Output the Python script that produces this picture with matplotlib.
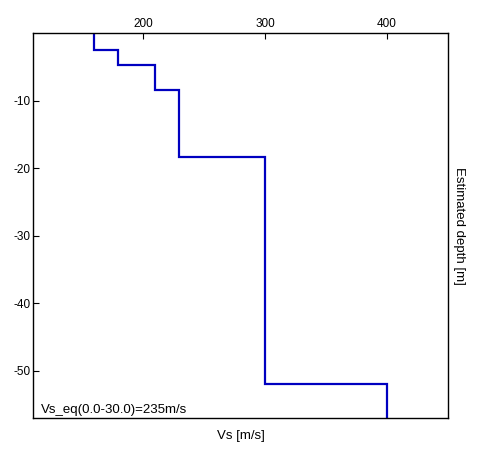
import numpy as np
import matplotlib
matplotlib.use("Agg")
import matplotlib.pyplot as plt

# ── Layer model ──────────────────────────────────────────────────────────────
vs_layers = [160, 180, 210, 230, 300, 400]          # m/s
layer_bottoms = [2.5, 4.8, 8.4, 18.4, 52.0, 57.0]   # depth of layer base [m]
vs_eq_label = "Vs_eq(0.0-30.0)=235m/s"

x_ticks = [200, 300, 400]
y_ticks = [-10, -20, -30, -40, -50]

plt.rcParams["font.family"] = ["Liberation Sans", "DejaVu Sans"]
plt.rcParams["axes.unicode_minus"] = False

# step profile: each layer drawn top to bottom
tops = [0.0] + layer_bottoms[:-1]
xs, ys = [], []
for v, top, bot in zip(vs_layers, tops, layer_bottoms):
    xs += [v, v]
    ys += [-top, -bot]

fig = plt.figure(figsize=(4.81, 4.51), dpi=100, facecolor="white")
ax = fig.add_axes([33 / 481, 1 - 418 / 451, 415 / 481, 385 / 451])

ax.plot(xs, ys, color="#0000c0", linewidth=1.6, solid_joinstyle="miter")

ax.set_xlim(110, 450)
ax.set_ylim(-57, 0)

ax.xaxis.tick_top()
ax.set_xticks(x_ticks)
ax.set_yticks(y_ticks)
ax.tick_params(direction="in", length=4, width=0.8, labelsize=8.5, pad=2,
               top=True, bottom=False, left=True, right=False)
for s in ax.spines.values():
    s.set_linewidth(1.0)

ax.set_xlabel("Vs [m/s]", fontsize=9.5, labelpad=9)
ax.xaxis.set_label_position("bottom")
ax.yaxis.set_label_position("right")
ax.set_ylabel("Estimated depth [m]", fontsize=9.5, rotation=270, labelpad=12)

ax.text(0.019, 0.006, vs_eq_label, transform=ax.transAxes,
        fontsize=9.5, ha="left", va="bottom")

fig.savefig("out.png", dpi=100, facecolor="white")
